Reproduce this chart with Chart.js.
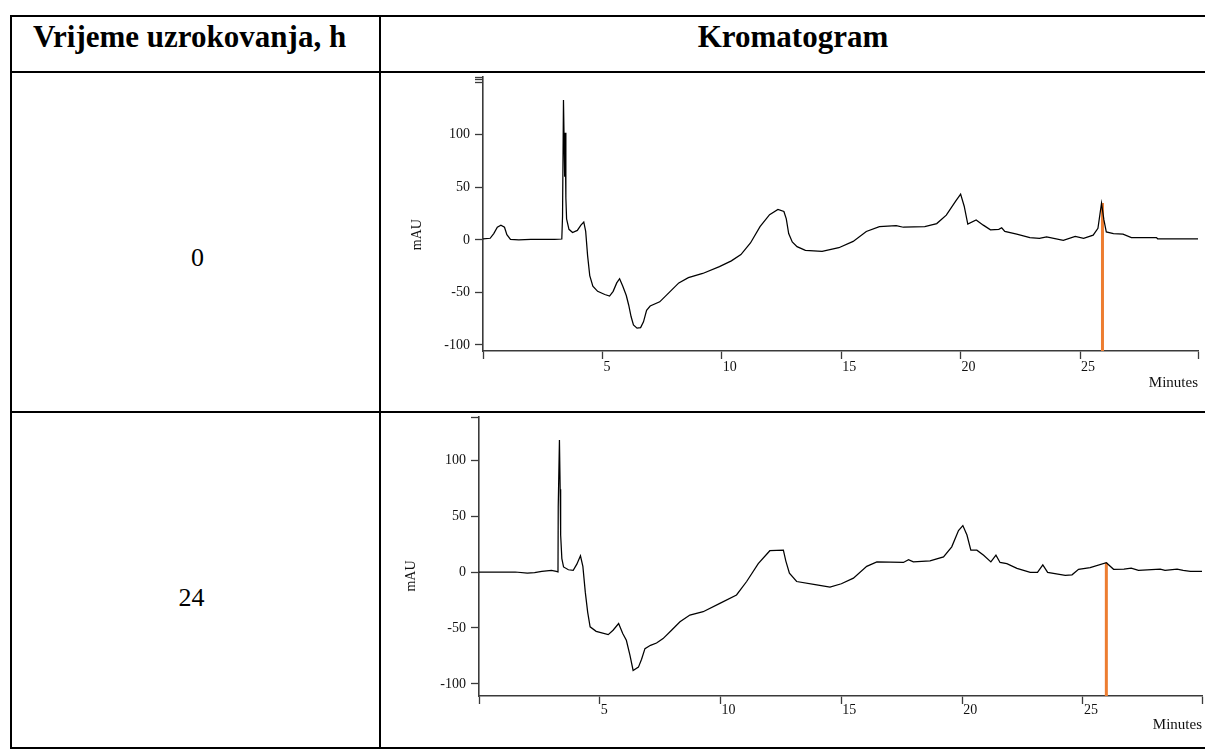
<!DOCTYPE html>
<html>
<head>
<meta charset="utf-8">
<script src="https://cdn.jsdelivr.net/npm/chart.js@4/dist/chart.umd.min.js"></script>
<style>
  html, body { margin: 0; padding: 0; background: #fff; }
  body { width: 1205px; height: 749px; position: relative; overflow: hidden; font-family: "Liberation Serif", "Times New Roman", serif; }
  .ln { position: absolute; background: #000; }
  .txt { position: absolute; color: #000; white-space: nowrap; }
  .hdr { font-weight: bold; font-size: 31px; }
  .cell { font-size: 26px; }
  canvas { position: absolute; }
</style>
</head>
<body>
<div class="ln" style="left:10px;top:15px;width:1195px;height:2px"></div>
<div class="ln" style="left:10px;top:71px;width:1195px;height:2px"></div>
<div class="ln" style="left:10px;top:411px;width:1195px;height:2px"></div>
<div class="ln" style="left:10px;top:747px;width:1195px;height:2px"></div>
<div class="ln" style="left:10px;top:15px;width:2px;height:734px"></div>
<div class="ln" style="left:379px;top:15px;width:2px;height:734px"></div>

<div class="txt hdr" id="h1" style="left:33px;top:19px">Vrijeme uzrokovanja, h</div>
<div class="txt hdr" id="h2" style="left:381px;width:824px;text-align:center;top:19px">Kromatogram</div>
<div class="txt cell" id="r1" style="left:14px;width:367px;text-align:center;top:243px">0</div>
<div class="txt cell" id="r2" style="left:8px;width:367px;text-align:center;top:583px">24</div>

<div style="position:absolute;left:381px;top:73px;width:824px;height:338px"><canvas id="c0"></canvas></div>
<div style="position:absolute;left:381px;top:413px;width:824px;height:334px"><canvas id="c1"></canvas></div>

<script>
// ---- data ----
const sampleTimes = ['0', '24'];

const time0 = [0,0.3,0.45,0.6,0.75,0.9,1.0,1.15,1.5,2.0,2.5,3.0,3.3,3.33,3.37,3.42,3.44,3.47,3.5,3.6,3.75,3.95,4.1,4.22,4.3,4.38,4.47,4.6,4.8,5.1,5.3,5.45,5.6,5.72,5.85,6.0,6.1,6.2,6.3,6.45,6.6,6.72,6.85,7.0,7.4,7.8,8.2,8.6,9.2,9.9,10.4,10.8,11.2,11.6,12.0,12.35,12.6,12.7,12.8,12.95,13.15,13.5,14.2,14.9,15.5,16.05,16.6,17.3,17.6,18.5,19.0,19.4,19.8,20.0,20.15,20.3,20.65,20.95,21.25,21.6,21.72,21.85,22.35,22.9,23.3,23.6,24.3,24.8,25.15,25.55,25.75,25.9,26.0,26.1,26.4,26.8,27.15,28.2,28.25,29.94];
const mau0  = [1,1.5,6,12,14,12,5,0.5,0,0.5,0.5,0.5,0.8,22,133,60,102,40,20,10,7,9,14,17,8,-15,-34,-44,-49,-52,-53.5,-49,-41,-37,-44,-53,-62,-73,-81,-84,-83.5,-78,-67,-63,-59,-50,-41,-36,-32,-25.5,-20,-14,-3,12.5,24,29,27,20,6,-2,-6.5,-10,-11,-7.5,-1.5,8,12.5,13.5,12,12.5,15.5,23.5,37,43.5,32,15,19,14,9.5,10,11.5,8,5.5,2.2,1.5,2.7,-0.5,3.2,1.5,4.5,11,35,19,7.5,6,5.5,2.2,2.2,1,1];

const time24 = [0,1.5,2.0,2.3,2.6,3.0,3.2,3.27,3.28,3.33,3.36,3.38,3.43,3.5,3.7,3.9,4.05,4.2,4.3,4.4,4.5,4.6,4.85,5.35,5.55,5.78,5.95,6.1,6.25,6.38,6.6,6.73,6.87,7.1,7.35,7.62,7.97,8.32,8.73,9.28,9.97,10.66,11.08,11.56,12.04,12.6,12.7,12.85,13.15,13.98,14.53,15.0,15.5,16.05,16.47,17.57,17.78,17.98,18.67,19.23,19.57,19.85,20.03,20.2,20.36,20.61,20.89,21.19,21.4,21.57,21.85,22.27,22.82,23.12,23.34,23.54,23.78,24.27,24.55,24.82,25.3,25.97,26.27,26.7,27.0,27.3,28.2,28.4,28.9,29.15,29.45,29.93];
const mau24  = [0,0,-1,-0.5,0.6,1.5,0.5,0,58,118,74,33,12,4.5,2,1.5,7,14.5,5,-18,-36,-49,-53,-56,-52,-46,-55,-61,-74.5,-88,-85,-78,-68.5,-65.5,-63.5,-59.5,-52,-44.5,-38.5,-35.5,-28,-20.5,-8.5,7.5,19,19.5,10,-1,-8.5,-11.5,-13.5,-10.5,-5.5,5,9,8.5,11,9,10,13.5,22.5,37,41.5,33,19.5,19.5,15,9,15,8.5,7.5,3.3,-0.3,-0.3,6.3,-0.3,-1.2,-3,-2.5,2.4,3.9,8.3,2.4,2.5,3.5,1.5,2.5,1.5,2.6,1.5,0.6,0.6];

const markerTime = [25.94, 25.97];
const markerTop  = [35, 8.3];

const yMin = [-105.8, -110.8];
const yMax = [155, 138.5];
const xMax = [29.94, 29.93];
const yTickValues = [[-100,-50,0,50,100,150,152.5,155],[-100,-50,0,50,100,138.5]];
const yTickLabels = ['-100','-50','0','50','100'];
const xTickValues = [[0,5,10,15,20,25,29.94],[0,5,10,15,20,25,29.93]];
const xTickLabels = ['','5','10','15','20','25',''];
const yTitle = 'mAU';
const xTitle = 'Minutes';

// ---- rendering ----
const AX = '#3a3a3a';
const yTitlePlugin = {
  id: 'yTitleAt',
  afterDraw(chart, args, o) {
    const ctx = chart.ctx, s = chart.scales.y;
    ctx.save();
    ctx.translate(o.x, s.getPixelForValue(o.v));
    ctx.rotate(-Math.PI / 2);
    ctx.font = '14px "Liberation Serif"';
    ctx.fillStyle = '#111';
    ctx.textAlign = 'center';
    ctx.textBaseline = 'middle';
    ctx.fillText(o.text, 0, 0);
    ctx.restore();
  }
};

function makeChart(id, i, times, vals, L) {
  const pts = times.map((t, k) => ({x: t, y: vals[k]}));
  const marker = [{x: markerTime[i], y: markerTop[i]}, {x: markerTime[i], y: yMin[i]}];
  return new Chart(document.getElementById(id), {
    type: 'scatter',
    data: { datasets: [
      { label: sampleTimes[i] + ' h', data: pts, showLine: true, borderColor: '#000', borderWidth: 1.25, pointRadius: 0, tension: 0 },
      { label: 'marker', data: marker, showLine: true, borderColor: '#ED7D31', borderWidth: 3, pointRadius: 0 }
    ]},
    plugins: [yTitlePlugin],
    options: {
      responsive: true, maintainAspectRatio: false, animation: false,
      layout: { padding: { top: L.top, right: L.right, left: 0, bottom: 0 } },
      plugins: { legend: { display: false }, tooltip: { enabled: false },
        yTitleAt: { text: yTitle, x: L.tx, v: L.tv } },
      scales: {
        x: {
          type: 'linear', min: 0, max: xMax[i],
          afterBuildTicks: s => { s.ticks = xTickValues[i].map(v => ({value: v})); },
          afterFit: s => { s.height = L.xh; s.paddingLeft = 0; s.paddingRight = 0; },
          grid: { drawOnChartArea: false, drawTicks: true, tickLength: 8, color: AX, tickWidth: 1.3 },
          border: { display: true, color: AX, width: 1.6 },
          ticks: { autoSkip: false, maxRotation: 0, align: 'start', labelOffset: 1, padding: L.xpad, color: '#111',
            font: { family: 'Liberation Serif', size: 14 },
            callback: (v, k) => xTickLabels[k] },
          title: { display: true, text: xTitle, align: 'end', color: '#111',
            font: { family: 'Liberation Serif', size: 15 }, padding: { top: 0, bottom: L.tpad } }
        },
        y: {
          min: yMin[i], max: yMax[i],
          afterBuildTicks: s => { s.ticks = yTickValues[i].map(v => ({value: v})); },
          afterFit: s => { s.width = L.yw; s.paddingTop = 0; s.paddingBottom = 0; },
          grid: { drawOnChartArea: false, drawTicks: true, tickLength: 8, color: AX, tickWidth: 1.3 },
          border: { display: true, color: AX, width: 1.6 },
          ticks: { autoSkip: false, padding: 5, color: '#111',
            font: { family: 'Liberation Serif', size: 14 },
            callback: (v, k) => (k < yTickLabels.length ? yTickLabels[k] : '') }
        }
      }
    }
  });
}

makeChart('c0', 0, time0, mau0, { top: 4, right: 7, xh: 60, yw: 102, xpad: 0, tpad: 19, tx: 36, tv: 5 });
makeChart('c1', 1, time24, mau24, { top: 4, right: 3, xh: 51, yw: 98, xpad: -2, tpad: 13, tx: 30, tv: -3.6 });
</script>
</body>
</html>
